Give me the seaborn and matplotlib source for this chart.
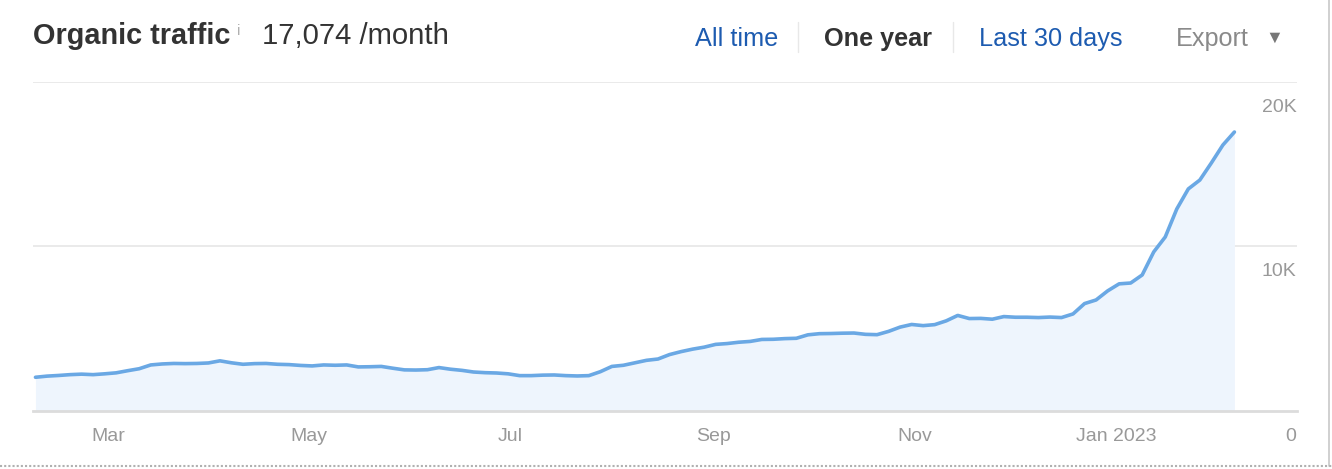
import pandas as pd
import seaborn as sns
import matplotlib.pyplot as plt
from matplotlib.lines import Line2D
from matplotlib.transforms import ScaledTranslation

# organic traffic sampled twice a week, starting 2022-02-07
start_date = "2022-02-07"
step = "84h"
traffic = [
    2050, 2120, 2160, 2210, 2240, 2210, 2260, 2320, 2450, 2570,
    2800, 2860, 2890, 2880, 2890, 2920, 3050, 2930, 2840, 2880,
    2890, 2840, 2820, 2770, 2740, 2800, 2780, 2800, 2680, 2690,
    2710, 2600, 2500, 2490, 2510, 2640, 2540, 2470, 2370, 2330,
    2310, 2260, 2150, 2150, 2180, 2190, 2150, 2130, 2150, 2390,
    2710, 2780, 2930, 3080, 3160, 3430, 3610, 3760, 3880, 4050,
    4100, 4180, 4230, 4350, 4360, 4400, 4420, 4630, 4700, 4710,
    4730, 4740, 4660, 4640, 4840, 5100, 5260, 5190, 5250, 5480,
    5810, 5620, 5630, 5580, 5740, 5700, 5700, 5680, 5710, 5680,
    5900, 6530, 6750, 7300, 7730, 7780, 8270, 9670, 10580, 12280,
    13500, 14040, 15080, 16170, 16960,
]
month_ticks = ["2022-03-01", "2022-05-01", "2022-07-01", "2022-09-01", "2022-11-01", "2023-01-01"]
month_labels = ["Mar", "May", "Jul", "Sep", "Nov", "Jan 2023"]
y_ticks = [0, 10000, 20000]
y_labels = ["0", "10K", "20K"]

df = pd.DataFrame({
    "date": pd.date_range(start_date, periods=len(traffic), freq=step),
    "traffic": traffic,
})

sns.set_style("white")
plt.rcParams["font.family"] = ["Liberation Sans", "DejaVu Sans"]

W, H = 1332, 469
fig = plt.figure(figsize=(W / 100, H / 100), dpi=100)
ax = fig.add_axes([33 / W, 1 - 411 / H, (1297 - 33) / W, (411 - 82) / H])

line_col = "#6aa8e4"
ax.fill_between(df["date"], 0, df["traffic"], color="#eef5fd", lw=0, zorder=1)
sns.lineplot(data=df, x="date", y="traffic", ax=ax, color=line_col, lw=2.6, zorder=3)

ax.set_xlim(pd.Timestamp("2022-02-06 06:00"), pd.Timestamp("2023-02-25"))
ax.set_ylim(0, 20000)

for v in y_ticks[1:]:
    ax.axhline(v, color="#e6e6e6", lw=1.2, zorder=0)

for s in ["top", "left", "right"]:
    ax.spines[s].set_visible(False)
ax.spines["bottom"].set_color("#dcdcdc")
ax.spines["bottom"].set_linewidth(2)
ax.spines["bottom"].set_zorder(4)

ax.set_xticks(pd.to_datetime(month_ticks))
ax.set_xticklabels(month_labels)
ax.tick_params(axis="x", direction="in", length=8, width=1, color="#e0e0e0",
               pad=12, labelsize=14, labelcolor="#999999")
ax.set_yticks([])
ax.set_xlabel("")
ax.set_ylabel("")

off = ScaledTranslation(0, -0.25, fig.dpi_scale_trans)
for v, lab in zip(y_ticks, y_labels):
    ax.text(0.9995, v, lab, transform=ax.get_yaxis_transform() + off,
            ha="right", va="center", fontsize=14, color="#999999")

# header
def fx(x):
    return x / W

def fy(y):
    return 1 - y / H

fig.text(fx(33), fy(44), "Organic traffic", fontsize=20.8, fontweight="bold", color="#333333", va="baseline")
fig.text(fx(237), fy(35), "i", fontsize=11, color="#b0b0b0", va="baseline")
fig.text(fx(262), fy(44), "17,074 /month", fontsize=21.1, color="#333333", va="baseline")

fig.text(fx(695), fy(46), "All time", fontsize=18.2, color="#1d5bb0", va="baseline")
fig.text(fx(824), fy(46), "One year", fontsize=18.2, fontweight="bold", color="#333333", va="baseline")
fig.text(fx(979), fy(46), "Last 30 days", fontsize=18.2, color="#1d5bb0", va="baseline")
fig.text(fx(1176), fy(46), "Export", fontsize=18.2, color="#8a8a8a", va="baseline")
fig.text(fx(1274), fy(38), "\u25bc", fontsize=13, color="#777777", va="center", ha="center")

for sx in [798, 953]:
    fig.add_artist(Line2D([fx(sx), fx(sx)], [fy(22), fy(52)], color="#e8e8e8", lw=1))

# frame edges of the screenshot
fig.add_artist(Line2D([fx(1329), fx(1329)], [fy(0), fy(466)], color="#c8c8c8", lw=1.2))
fig.add_artist(Line2D([0, 1], [fy(466), fy(466)], color="#b0b0b0", lw=1.5, ls=(0, (1, 1))))

fig.savefig("out.png", dpi=100)
plt.close(fig)
